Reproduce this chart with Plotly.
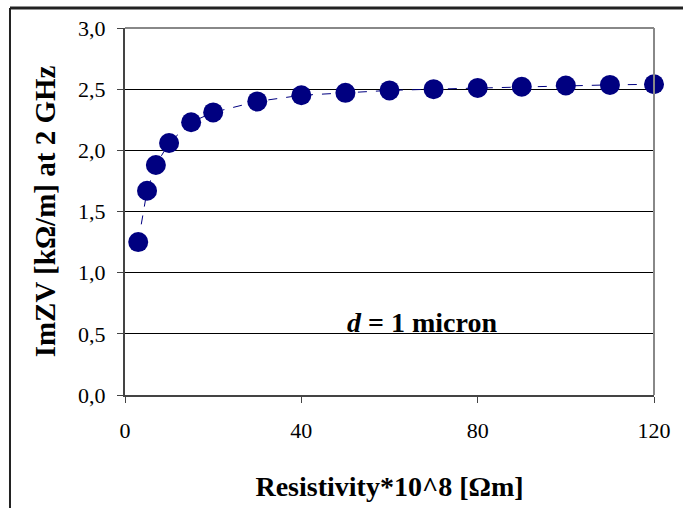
import plotly.graph_objects as go

resistivity = [3, 5, 7, 10, 15, 20, 30, 40, 50, 60, 70, 80, 90, 100, 110, 120]
im_zv = [1.25, 1.67, 1.88, 2.06, 2.23, 2.31, 2.40, 2.45, 2.47, 2.49, 2.50, 2.51, 2.52, 2.53, 2.535, 2.54]
x_ticks = [0, 40, 80, 120]
y_ticks = [0.0, 0.5, 1.0, 1.5, 2.0, 2.5, 3.0]

FONT = "Liberation Serif"
NAVY = "#000080"

fig = go.Figure()
fig.add_trace(go.Scatter(
    x=resistivity, y=im_zv, mode="lines+markers",
    line=dict(color=NAVY, width=1, dash="dash"),
    marker=dict(color=NAVY, size=20),
    cliponaxis=False, showlegend=False,
))

fig.update_layout(
    width=683, height=508,
    margin=dict(l=125, r=29, t=28, b=113),
    paper_bgcolor="white", plot_bgcolor="white",
    separators=", ",
    font=dict(family=FONT, size=22, color="black"),
    xaxis=dict(
        range=[0, 120], tickvals=x_ticks, showgrid=False, zeroline=False,
        showline=True, linecolor="#444444", linewidth=2,
        ticks="outside", ticklen=6, tickcolor="#444444", tickwidth=1,
        tickfont=dict(family=FONT, size=22, color="black"),
        ticklabelstandoff=9,
        title=dict(text="<b>Resistivity*10^8 [Ωm]</b>",
                   font=dict(family=FONT, size=28, color="black"), standoff=34),
    ),
    yaxis=dict(
        range=[0, 3], tickvals=y_ticks, tickformat=".1f", showgrid=True,
        gridcolor="black", gridwidth=1, zeroline=False,
        showline=True, linecolor="#444444", linewidth=2,
        ticks="outside", ticklen=6, tickcolor="#444444", tickwidth=1,
        tickfont=dict(family=FONT, size=22, color="black"),
        ticklabelstandoff=7,
        title=dict(text="<b>ImZV [kΩ/m] at 2 GHz</b>",
                   font=dict(family=FONT, size=29, color="black"), standoff=14),
    ),
    shapes=[
        dict(type="line", xref="paper", yref="paper", x0=0, x1=1, y0=1, y1=1,
             line=dict(color="#888888", width=2)),
        dict(type="line", xref="paper", yref="paper", x0=1, x1=1, y0=0, y1=1,
             line=dict(color="#888888", width=2)),
        dict(type="line", xref="paper", yref="paper", x0=-0.2174, x1=1.055, y0=1.0545, y1=1.0545,
             line=dict(color="#222222", width=3)),
        dict(type="line", xref="paper", yref="paper", x0=-0.2174, x1=-0.2174, y0=-0.31, y1=1.0545,
             line=dict(color="#222222", width=2)),
    ],
    annotations=[
        dict(x=67.4, y=0.59, xref="x", yref="y", showarrow=False,
             text="<b><i>d</i> = 1 micron</b>", font=dict(size=28, family=FONT, color="black")),
    ],
)

fig.write_html("out.html", config={"displayModeBar": False},
               post_script="document.body.style.margin='0';")
